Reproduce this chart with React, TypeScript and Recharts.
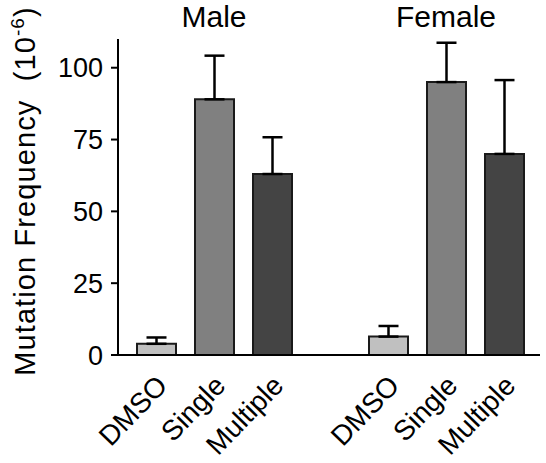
import React from "react";
import { BarChart, Bar, XAxis, YAxis, Cell, ErrorBar } from "recharts";

const categories = ["m-DMSO", "m-Single", "m-Multiple", "gap", "f-DMSO", "f-Single", "f-Multiple"];
const tickLabels = ["DMSO", "Single", "Multiple", "", "DMSO", "Single", "Multiple"];
const groupTitles = ["", "Male", "", "", "", "Female", ""];
const frequency = [3.9, 89, 63, null, 6.4, 95, 70];
const frequencyError = [2.2, 15.2, 12.8, null, 3.7, 13.7, 25.7];
const barColors = ["#c0c0c0", "#808080", "#444444", "#ffffff", "#c0c0c0", "#808080", "#444444"];
const yTicks = [0, 25, 50, 75, 100];

const FONT = "'Liberation Sans', Arial, sans-serif";

const data = categories.map((key, i) => ({
  key,
  value: frequency[i],
  err: frequencyError[i] == null ? null : [0, frequencyError[i]],
}));

function BottomTick(props: any) {
  const { x, y, index } = props;
  const label = tickLabels[index];
  if (!label) return null;
  return (
    <text
      x={0}
      y={0}
      transform={`translate(${x + 13},${y + 32}) rotate(-46)`}
      textAnchor="end"
      fontSize={28}
      fontFamily={FONT}
      fill="#000"
    >
      {label}
    </text>
  );
}

function TopTick(props: any) {
  const { x, index } = props;
  const title = groupTitles[index];
  if (!title) return null;
  return (
    <text x={x} y={27} textAnchor="middle" fontSize={30} fontFamily={FONT} fill="#000">
      {title}
    </text>
  );
}

function YLabel() {
  return (
    <text
      x={0}
      y={0}
      transform="translate(35,191) rotate(-90)"
      textAnchor="middle"
      fontSize={29}
      fontFamily={FONT}
      letterSpacing={1.1}
      fill="#000"
    >
      Mutation Frequency{"\u00a0\u00a0"}(10
      <tspan fontSize={19} dy={-11}>-6</tspan>
      <tspan dy={11}>)</tspan>
    </text>
  );
}

export default function App() {
  return (
    <div style={{ position: "absolute", left: 0, top: 0, background: "#fff" }}>
      <BarChart
        width={546}
        height={463}
        data={data}
        margin={{ top: 0, right: 6, bottom: 0, left: 0 }}
        barCategoryGap={0}
      >
        <XAxis
          xAxisId="top"
          orientation="top"
          dataKey="key"
          height={39}
          axisLine={false}
          tickLine={false}
          tickSize={0}
          padding={{ left: 9, right: 7 }}
          interval={0}
          tick={<TopTick />}
        />
        <XAxis
          dataKey="key"
          height={108}
          axisLine={{ stroke: "#000", strokeWidth: 2 }}
          tickLine={false}
          tickSize={0}
          tickMargin={0}
          padding={{ left: 9, right: 7 }}
          interval={0}
          tick={<BottomTick />}
        />
        <YAxis
          width={118}
          domain={[0, 110]}
          ticks={yTicks}
          allowDataOverflow
          axisLine={{ stroke: "#000", strokeWidth: 2 }}
          tickLine={{ stroke: "#000", strokeWidth: 2 }}
          tickSize={7}
          tickMargin={8}
          tick={{ fill: "#000", fontSize: 27, fontFamily: FONT }}
          label={<YLabel />}
        />
        <Bar dataKey="value" barSize={39} stroke="#1a1a1a" strokeWidth={2} isAnimationActive={false}>
          {data.map((d, i) => (
            <Cell key={d.key} fill={barColors[i]} />
          ))}
          <ErrorBar dataKey="err" width={10} stroke="#000" strokeWidth={2.5} direction="y" />
        </Bar>
      </BarChart>
    </div>
  );
}
